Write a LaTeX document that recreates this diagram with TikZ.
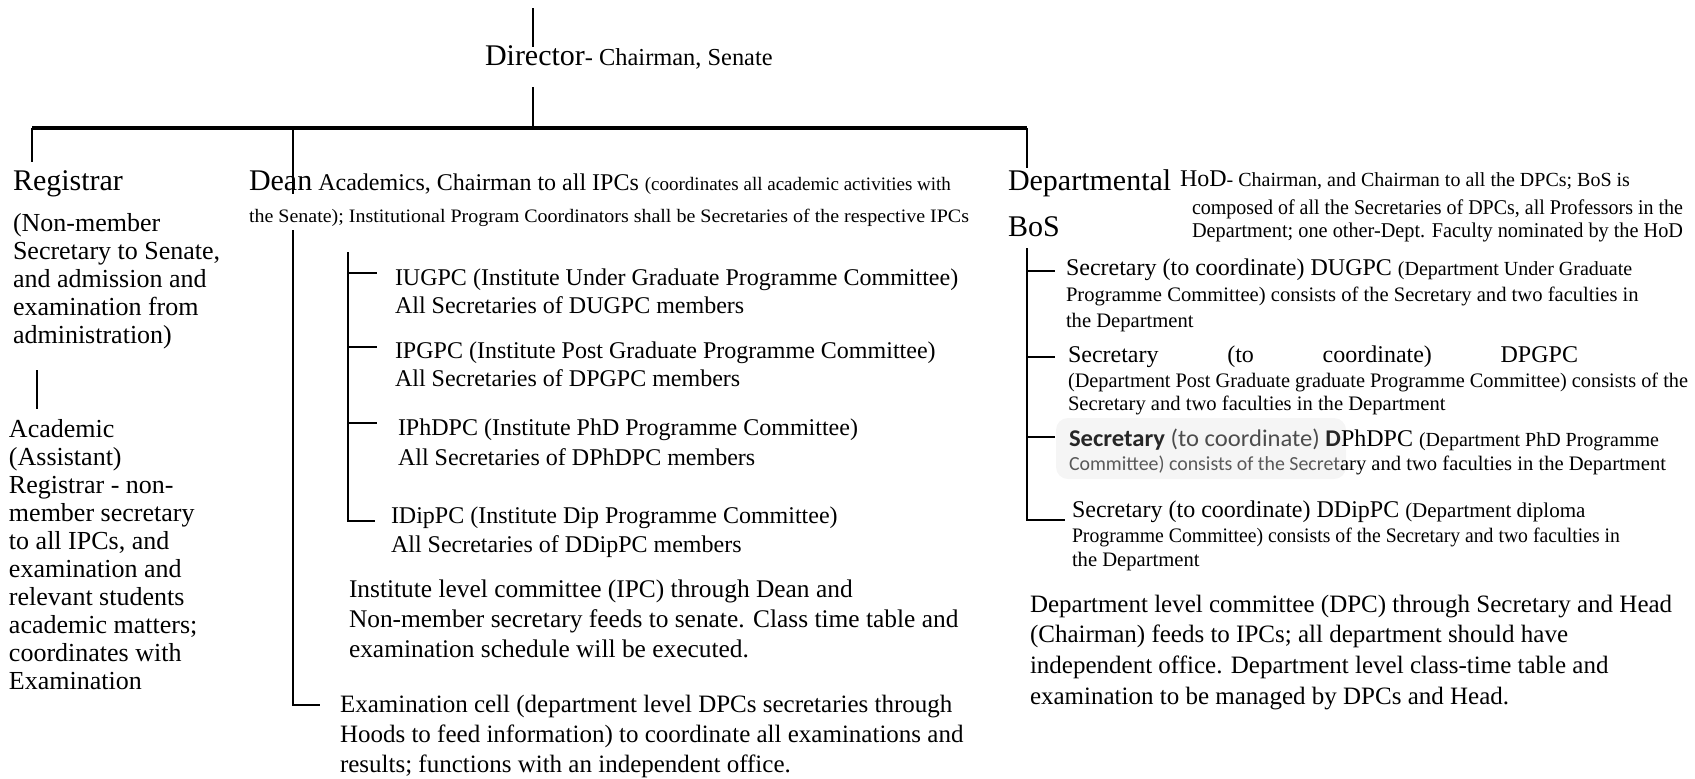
\documentclass[tikz,border=0pt]{standalone}
\usepackage{fontspec}
\usepackage{graphicx}
\setmainfont{Liberation Serif}
\newfontfamily\calibri{Carlito}
% squeeze or stretch one line of text to a given width (in picture units)
\newsavebox\fitbox
\newcommand\fitto[2]{\sbox\fitbox{#2}\pgfmathsetmacro\fitr{#1*0.5pt/\the\wd\fitbox}\scalebox{\fitr}[1]{\usebox\fitbox}}
\newcommand\fs[1]{\fontsize{#1pt}{#1pt}\selectfont}
\begin{document}
\begin{tikzpicture}[x=0.5pt,y=-0.5pt,
  txt/.style={anchor=base west, inner sep=0pt, outer sep=0pt},
  link/.style={line width=1.1pt},
  bar/.style={line width=1.7pt}]
\useasboundingbox (0,0) rectangle (1695,778);

% ---------- top: Director and the main bar ----------
\node[txt] (director) at (485,65) {\fs{15}Director\fs{12.2}- Chairman, Senate};
\coordinate (dirtop) at (533,8);
\coordinate (dirup) at (533,47);
\coordinate (dirdown) at (533,87);
\coordinate (barmid) at (533,128);
\coordinate (barL) at (32,128);
\coordinate (barD) at (293,128);
\coordinate (barR) at (1027,128);
\draw[link] (dirtop) -- (dirup);
\draw[link] (dirdown) -- (barmid);
\draw[bar] (barL) -- (barR);

% ---------- Registrar column ----------
\node[txt] (registrar) at (13,190) {\fs{15}Registrar};
\draw[link] (barL) -- (32,162);
\node[txt] (reg1) at (13,231) {\fs{13}(Non-member};
\node[txt] (reg2) at (13,259) {\fs{13}Secretary to Senate,};
\node[txt] (reg3) at (13,287) {\fs{13}and admission and};
\node[txt] (reg4) at (13,315) {\fs{13}examination from};
\node[txt] (reg5) at (13,343) {\fs{13}administration)};
\coordinate (regs1) at (37,370);
\coordinate (regs2) at (37,409);
\draw[link] (regs1) -- (regs2);
\node[txt] (aca1) at (9,437) {\fs{13}Academic};
\node[txt] (aca2) at (9,465) {\fs{13}(Assistant)};
\node[txt] (aca3) at (9,493) {\fs{13}Registrar - non-};
\node[txt] (aca4) at (9,521) {\fs{13}member secretary};
\node[txt] (aca5) at (9,549) {\fs{13}to all IPCs, and};
\node[txt] (aca6) at (9,577) {\fs{13}examination and};
\node[txt] (aca7) at (9,605) {\fs{13}relevant students};
\node[txt] (aca8) at (9,633) {\fs{13}academic matters;};
\node[txt] (aca9) at (9,661) {\fs{13}coordinates with};
\node[txt] (aca10) at (9,689) {\fs{13}Examination};

% ---------- Dean column ----------
\node[txt] (dean) at (249,190) {\fs{15}Dean\fs{12} Academics, Chairman to all IPCs \fs{9.5}(coordinates all academic activities with};
\node[txt] (dean2) at (249,222) {\fs{9.5}\fitto{720}{the Senate); Institutional Program Coordinators shall be Secretaries of the respective IPCs}};
\draw[link] (barD) -- (293,194);
\coordinate (deantop) at (293,230);
\coordinate (deancorner) at (293,705);
\coordinate (examtick) at (320,705);
\draw[link] (deantop) -- (deancorner) -- (examtick);

% institute programme committees
\coordinate (ipctop) at (348,252);
\coordinate (ipcbot) at (348,521);
\draw[link] (ipctop) -- (ipcbot) -- (375,521);
\draw[link] (348,273) -- (377,273);
\draw[link] (348,347) -- (377,347);
\draw[link] (348,423) -- (377,423);
\node[txt] (iug1) at (395,285) {\fs{12}IUGPC (Institute Under Graduate Programme Committee)};
\node[txt] (iug2) at (395,313) {\fs{12}All Secretaries of DUGPC members};
\node[txt] (ipg1) at (395,358) {\fs{12}IPGPC (Institute Post Graduate Programme Committee)};
\node[txt] (ipg2) at (395,386) {\fs{12}All Secretaries of DPGPC members};
\node[txt] (iph1) at (398,435) {\fs{12}IPhDPC (Institute PhD Programme Committee)};
\node[txt] (iph2) at (398,465) {\fs{12}All Secretaries of DPhDPC members};
\node[txt] (idp1) at (391,523) {\fs{12}IDipPC (Institute Dip Programme Committee)};
\node[txt] (idp2) at (391,552) {\fs{12}All Secretaries of DDipPC members};

\node[txt] (inst1) at (349,597) {\fs{12.7}Institute level committee (IPC) through Dean and};
\node[txt] (inst2) at (349,627) {\fs{12.7}Non-member secretary feeds to senate. Class time table and};
\node[txt] (inst3) at (349,657) {\fs{12.7}examination schedule will be executed.};

\node[txt] (exam1) at (340,712) {\fs{12.5}Examination cell (department level DPCs secretaries through};
\node[txt] (exam2) at (340,742) {\fs{12.5}Hoods to feed information) to coordinate all examinations and};
\node[txt] (exam3) at (340,772) {\fs{12.5}results; functions with an independent office.};

% ---------- Departmental BoS column ----------
\node[txt] (dept) at (1008,190) {\fs{15}Departmental};
\node[txt] (bos) at (1008,236) {\fs{15}BoS};
\draw[link] (barR) -- (1027,168);
\node[txt] (hod) at (1180,186) {\fs{12}HoD\fs{10}- Chairman, and Chairman to all the DPCs; BoS is};
\node[txt] (comp1) at (1192,214) {\fs{10.5}\fitto{491}{composed of all the Secretaries of DPCs, all Professors in the}};
\node[txt] (comp2) at (1192,237) {\fs{10.5}\fitto{491}{Department; one other-Dept. Faculty nominated by the HoD}};

\coordinate (dpctop) at (1027,248);
\coordinate (dpcbot) at (1027,520);
\draw[link] (dpctop) -- (dpcbot) -- (1065,520);
\draw[link] (1027,271) -- (1055,271);
\draw[link] (1027,357) -- (1055,357);
\draw[link] (1027,437) -- (1055,437);

\node[txt] (dug1) at (1066,275) {\fs{12}Secretary (to coordinate) DUGPC \fs{10}(Department Under Graduate};
\node[txt] (dug2) at (1066,301) {\fs{10.3}Programme Committee) consists of the Secretary and two faculties in};
\node[txt] (dug3) at (1066,327) {\fs{10.3}the Department};

\node[txt] (dpg1) at (1068,362) {\fs{12}\makebox[255pt][s]{Secretary\hfill(to\hfill coordinate)\hfill DPGPC}};
\node[txt] (dpg2) at (1068,387) {\fs{10.3}\fitto{620}{(Department Post Graduate graduate Programme Committee) consists of the}};
\node[txt] (dpg3) at (1068,410) {\fs{10.3}Secretary and two faculties in the Department};

% the faint grey patch behind the sans-serif words
\fill[black!4, rounded corners=6pt] (1056,418) rectangle (1346,479);
\node[txt] (dph1) at (1069,446) {{\calibri\fitto{272}{\fs{12}{\color{black!85}\textbf{Secretary}} {\color{black!70}(to coordinate)} {\color{black!85}\textbf{D}}}}\fs{12}PhDPC \fs{10}(Department PhD Programme};
\node[txt] (dph2) at (1069,470) {{\calibri\color{black!65}\fitto{271}{\fs{10}Committee) consists of the Secret}}\fs{10.3}ary and two faculties in the Department};

\node[txt] (ddp1) at (1072,517) {\fs{12}Secretary (to coordinate) DDipPC \fs{10.5}(Department diploma};
\node[txt] (ddp2) at (1072,542) {\fs{10.3}\fitto{548}{Programme Committee) consists of the Secretary and two faculties in}};
\node[txt] (ddp3) at (1072,566) {\fs{10.3}the Department};

\node[txt] (dl1) at (1030,612) {\fs{12.5}Department level committee (DPC) through Secretary and Head};
\node[txt] (dl2) at (1030,642) {\fs{12.5}(Chairman) feeds to IPCs; all department should have};
\node[txt] (dl3) at (1030,673) {\fs{12.5}independent office. Department level class-time table and};
\node[txt] (dl4) at (1030,704) {\fs{12.5}examination to be managed by DPCs and Head.};
\end{tikzpicture}
\end{document}
